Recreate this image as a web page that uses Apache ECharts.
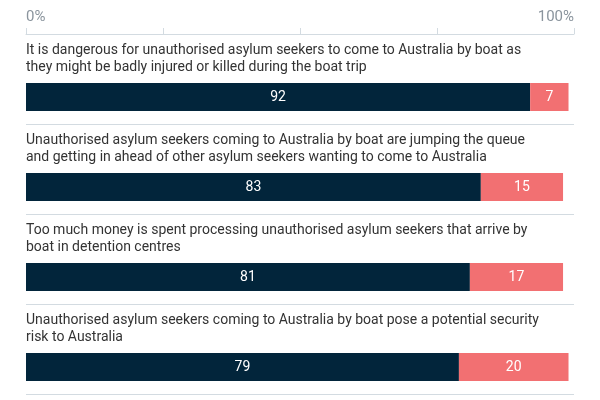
<!DOCTYPE html>
<html>
<head>
<meta charset="utf-8">
<script src="https://cdn.jsdelivr.net/npm/echarts@6/dist/echarts.min.js"></script>
<style>
  html, body { margin: 0; padding: 0; background: #fff; }
  #chart { width: 600px; height: 400px; }
</style>
</head>
<body>
<div id="chart"></div>
<script>
// Survey statements (line breaks follow the reference wrapping)
const statements = [
    'It is dangerous for unauthorised asylum seekers to come to Australia by boat as\nthey might be badly injured or killed during the boat trip',
    'Unauthorised asylum seekers coming to Australia by boat are jumping the queue\nand getting in ahead of other asylum seekers wanting to come to Australia',
    'Too much money is spent processing unauthorised asylum seekers that arrive by\nboat in detention centres',
    'Unauthorised asylum seekers coming to Australia by boat pose a potential security\nrisk to Australia'
];
const agree = [92, 83, 81, 79];
const disagree = [7, 15, 17, 20];
const tickLabels = { 0: '0%', 100: '100%' };
// empty slot that pushes the bars below the statement text
const spacer = [0, 0, 0, 0];

const fontFamily = 'Roboto, "Liberation Sans", sans-serif';

const chart = echarts.init(document.getElementById('chart'));

chart.setOption({
    animation: false,
    grid: { left: 26, right: 26, top: 34, height: 360 },
    xAxis: {
        type: 'value', min: 0, max: 100, interval: 25,
        position: 'top',
        axisLine: { show: true, lineStyle: { color: '#d3dbe1', width: 1 } },
        axisTick: { show: true, length: 6, lineStyle: { color: '#d3dbe1' } },
        splitLine: { show: false },
        axisLabel: {
            margin: 9,
            color: '#8a949d',
            fontFamily: fontFamily,
            fontSize: 15,
            alignMinLabel: 'left',
            alignMaxLabel: 'right',
            formatter: v => tickLabels[v] || ''
        }
    },
    yAxis: {
        type: 'category', inverse: true,
        data: statements,
        axisLine: { show: false },
        axisTick: { show: false },
        splitLine: { show: true, lineStyle: { color: '#d3dbe1', width: 1 } },
        axisLabel: {
            inside: true,
            interval: 0,
            margin: 0,
            align: 'left',
            verticalAlign: 'bottom',
            padding: [0, 0, 3, 0],
            lineHeight: 17,
            fontSize: 14,
            fontFamily: fontFamily,
            color: '#333'
        }
    },
    series: [
        {
            name: 'spacer',
            type: 'bar',
            stack: 'pad',
            barWidth: 36,
            barGap: '0%',
            silent: true,
            data: spacer,
            itemStyle: { color: 'rgba(0,0,0,0)' },
            label: { show: false }
        },
        {
            name: 'Agree',
            type: 'bar',
            stack: 'total',
            barWidth: 28,
            barGap: '0%',
            data: agree,
            itemStyle: { color: '#02253b' },
            label: {
                show: true, position: 'inside', color: '#fff',
                fontFamily: fontFamily, fontSize: 14
            }
        },
        {
            name: 'Disagree',
            type: 'bar',
            stack: 'total',
            barWidth: 28,
            barGap: '0%',
            data: disagree,
            itemStyle: { color: '#f27072' },
            label: {
                show: true, position: 'inside', color: '#fff',
                fontFamily: fontFamily, fontSize: 14
            }
        }
    ]
});
</script>
</body>
</html>
